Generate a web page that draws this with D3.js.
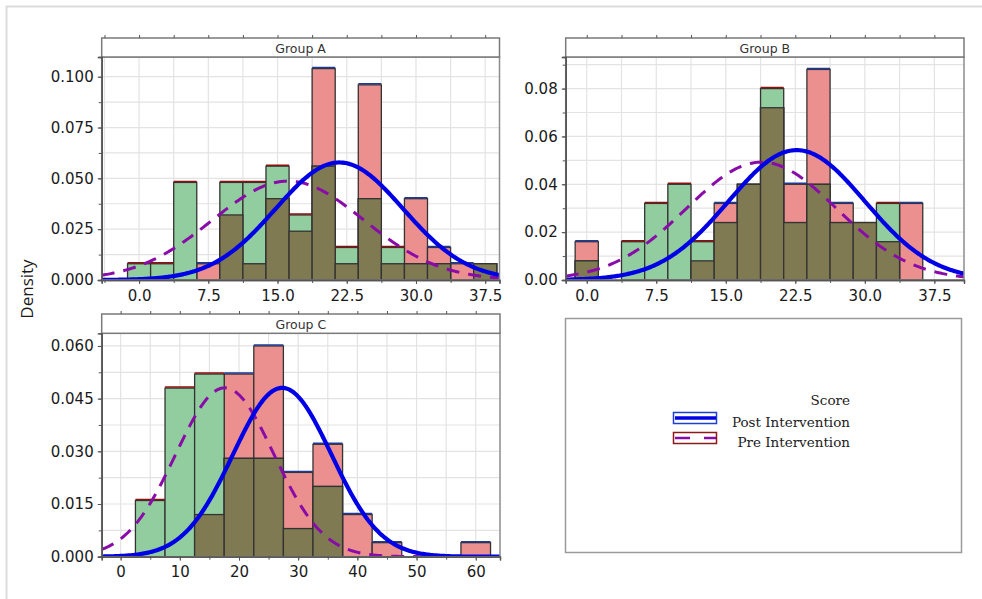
<!DOCTYPE html>
<html>
<head>
<meta charset="utf-8">
<script src="https://cdn.jsdelivr.net/npm/d3@7"></script>
<style>
  body { margin: 0; background: #fff; }
  svg { display: block; font-family: "DejaVu Sans", sans-serif; }
</style>
</head>
<body>
<div class="vis"></div>
<script>
(function() {
  'use strict';

  // histogram bins (bin centres) and densities
  var binsA = [0, 2.5, 5, 7.5, 10, 12.5, 15, 17.5, 20, 22.5, 25, 27.5, 30, 32.5, 35, 37.5];
  var postA = [0, 0, 0, 0.008, 0.032, 0.008, 0.040, 0.024, 0.104, 0.008, 0.096, 0.008, 0.040, 0.016, 0.008, 0.008];
  var preA  = [0.008, 0.008, 0.048, 0, 0.048, 0.048, 0.056, 0.032, 0.056, 0.016, 0.040, 0.016, 0.008, 0.008, 0, 0.008];

  var binsB = [0, 2.5, 5, 7.5, 10, 12.5, 15, 17.5, 20, 22.5, 25, 27.5, 30, 32.5, 35];
  var postB = [0.016, 0, 0, 0, 0, 0.008, 0.032, 0.040, 0.072, 0.040, 0.088, 0.032, 0.024, 0.016, 0.032];
  var preB  = [0.008, 0, 0.016, 0.032, 0.040, 0.016, 0.024, 0.040, 0.080, 0.024, 0.040, 0.024, 0.024, 0.032, 0];

  var binsC = [5, 10, 15, 20, 25, 30, 35, 40, 45, 50, 55, 60];
  var postC = [0, 0, 0.012, 0.052, 0.060, 0.024, 0.032, 0.012, 0.004, 0, 0, 0.004];
  var preC  = [0.016, 0.048, 0.052, 0.028, 0.028, 0.008, 0.020, 0, 0, 0, 0, 0];

  // fitted normal curves: [mean, sd]
  var postFitA = [21.7, 6.9],  preFitA = [16.15, 8.2];
  var postFitB = [22.65, 7.35], preFitB = [18.85, 8.1];
  var postFitC = [27.3, 8.3],  preFitC = [17.6, 8.3];

  // tick labels
  var xTicksAB = [0, 7.5, 15, 22.5, 30, 37.5];
  var xTicksC = [0, 10, 20, 30, 40, 50, 60];
  var yTicksA = [0, 0.025, 0.05, 0.075, 0.1];
  var yTicksB = [0, 0.02, 0.04, 0.06, 0.08];
  var yTicksC = [0, 0.015, 0.03, 0.045, 0.06];

  var colPost = '#eb8f8f', colPre = '#91cd9f', colBoth = '#7f7a52';

  var svg = d3.select('.vis').append('svg')
    .attr('width', 982)
    .attr('height', 599);

  // light outer frame
  svg.append('line').attr('x1', 6).attr('x2', 982).attr('y1', 6.5).attr('y2', 6.5)
    .attr('stroke', '#dcdcdc').attr('stroke-width', 2);
  svg.append('line').attr('x1', 6.5).attr('x2', 6.5).attr('y1', 6).attr('y2', 599)
    .attr('stroke', '#dcdcdc').attr('stroke-width', 2);

  function normal(x, p) {
    var z = (x - p[0]) / p[1];
    return Math.exp(-0.5 * z * z) / (p[1] * Math.sqrt(2 * Math.PI));
  }

  function panel(cfg, id) {
    var x = d3.scaleLinear().domain(cfg.xDomain).range([cfg.left, cfg.right]);
    var y = d3.scaleLinear().domain(cfg.yDomain).range([cfg.bottom, cfg.top]);
    var g = svg.append('g');
    var xStep = cfg.xTicks[1] - cfg.xTicks[0],
      yStep = cfg.yTicks[1] - cfg.yTicks[0];
    var xMinor = d3.range(Math.ceil(cfg.xDomain[0] / (xStep / 2)), Math.floor(cfg.xDomain[1] / (xStep / 2)) + 1)
      .map(function(k) { return k * xStep / 2; });
    var yMinor = d3.range(0, Math.floor(cfg.yDomain[1] / (yStep / 2) + 1e-6) + 1)
      .map(function(k) { return k * yStep / 2; });

    svg.append('clipPath').attr('id', 'clip' + id)
      .append('rect')
        .attr('x', cfg.left).attr('y', cfg.top)
        .attr('width', cfg.right - cfg.left).attr('height', cfg.bottom - cfg.top);

    // grid
    g.selectAll('.vg').data(xMinor).enter().append('line')
      .attr('x1', function(d) { return x(d); }).attr('x2', function(d) { return x(d); })
      .attr('y1', cfg.top).attr('y2', cfg.bottom)
      .attr('stroke', '#e3e3e3').attr('stroke-width', 1.2);
    g.selectAll('.hg').data(yMinor).enter().append('line')
      .attr('x1', cfg.left).attr('x2', cfg.right)
      .attr('y1', function(d) { return y(d); }).attr('y2', function(d) { return y(d); })
      .attr('stroke', '#e3e3e3').attr('stroke-width', 1.2);

    // bars
    var rows = cfg.bins.map(function(c, i) {
      return {c: c, post: cfg.post[i], pre: cfg.pre[i]};
    });
    var hw = cfg.binWidth / 2;
    var bars = g.append('g').attr('clip-path', 'url(#clip' + id + ')');
    function layer(val, fill) {
      bars.selectAll(null)
        .data(rows.filter(function(d) { return val(d) > 0; }))
        .enter().append('rect')
          .attr('x', function(d) { return x(d.c - hw); })
          .attr('width', function(d) { return x(d.c + hw) - x(d.c - hw); })
          .attr('y', function(d) { return y(val(d)); })
          .attr('height', function(d) { return y(0) - y(val(d)); })
          .attr('fill', fill)
          .attr('stroke', '#333')
          .attr('stroke-width', 1.3);
    }
    layer(function(d) { return d.post; }, colPost);
    layer(function(d) { return d.pre; }, colPre);
    layer(function(d) { return Math.min(d.post, d.pre); }, colBoth);

    // coloured top edge of taller bar
    bars.selectAll(null)
      .data(rows.filter(function(d) { return d.post !== d.pre; }))
      .enter().append('line')
        .attr('x1', function(d) { return x(d.c - hw); })
        .attr('x2', function(d) { return x(d.c + hw); })
        .attr('y1', function(d) { return y(Math.max(d.post, d.pre)) - 1; })
        .attr('y2', function(d) { return y(Math.max(d.post, d.pre)) - 1; })
        .attr('stroke', function(d) { return d.post > d.pre ? '#1f3a93' : '#8b1010'; })
        .attr('stroke-width', 1.5);

    // density curves
    var xs = d3.range(0, 301).map(function(k) {
      return cfg.xDomain[0] + k * (cfg.xDomain[1] - cfg.xDomain[0]) / 300;
    });
    var line = d3.line().x(function(d) { return x(d[0]); }).y(function(d) { return y(d[1]); });
    bars.append('path')
      .datum(xs.map(function(v) { return [v, normal(v, cfg.preFit)]; }))
      .attr('d', line).attr('fill', 'none')
      .attr('stroke', '#8a0ca8').attr('stroke-width', 3)
      .attr('stroke-dasharray', '13,9');
    bars.append('path')
      .datum(xs.map(function(v) { return [v, normal(v, cfg.postFit)]; }))
      .attr('d', line).attr('fill', 'none')
      .attr('stroke', '#0000e6').attr('stroke-width', 4.2);

    // frame
    g.append('rect')
      .attr('x', cfg.left).attr('y', cfg.top)
      .attr('width', cfg.right - cfg.left).attr('height', cfg.bottom - cfg.top)
      .attr('fill', 'none').attr('stroke', '#8c8c8c').attr('stroke-width', 1.5);

    // strip
    g.append('rect')
      .attr('x', cfg.left).attr('y', cfg.stripTop)
      .attr('width', cfg.right - cfg.left).attr('height', cfg.top - cfg.stripTop)
      .attr('fill', '#fff').attr('stroke', '#7a7a7a').attr('stroke-width', 1.5);
    g.append('text')
      .attr('x', (cfg.left + cfg.right) / 2).attr('y', cfg.top - 4.5)
      .attr('text-anchor', 'middle')
      .attr('font-size', 12.5).attr('fill', '#333')
      .text(cfg.title);

    // axes
    var ax = g.append('g').attr('transform', 'translate(0,' + cfg.bottom + ')')
      .call(d3.axisBottom(x).tickValues(cfg.xTicks).tickFormat(cfg.xFmt).tickSize(4).tickPadding(6));
    var axm = g.append('g').attr('transform', 'translate(0,' + cfg.bottom + ')')
      .call(d3.axisBottom(x).tickValues(xMinor).tickFormat('').tickSize(3));
    var ay = g.append('g').attr('transform', 'translate(' + cfg.left + ',0)')
      .call(d3.axisLeft(y).tickValues(cfg.yTicks).tickFormat(cfg.yFmt).tickSize(4).tickPadding(4));
    var aym = g.append('g').attr('transform', 'translate(' + cfg.left + ',0)')
      .call(d3.axisLeft(y).tickValues(yMinor).tickFormat('').tickSize(3));
    var at = g.append('g').attr('transform', 'translate(0,' + cfg.stripTop + ')')
      .call(d3.axisTop(x).tickValues(xMinor).tickFormat('').tickSize(3));
    [ax, axm, ay, aym, at].forEach(function(a) {
      a.select('.domain').attr('stroke', '#555').attr('stroke-width', 1.3);
      a.selectAll('.tick line').attr('stroke', '#555');
      a.selectAll('text').attr('font-size', 15).attr('fill', '#1a1a1a')
        .attr('font-family', '"DejaVu Sans", sans-serif');
    });
    at.select('.domain').remove();
  }

  var f1 = d3.format('.1f'), f2 = d3.format('.2f'), f3 = d3.format('.3f'), f0 = d3.format('d');

  panel({title: 'Group A', left: 101.7, right: 499.5, stripTop: 38, top: 57, bottom: 280,
    xDomain: [-4.05, 39.05], yDomain: [0, 0.1097], bins: binsA, binWidth: 2.5,
    post: postA, pre: preA, postFit: postFitA, preFit: preFitA,
    xTicks: xTicksAB, yTicks: yTicksA, xFmt: f1, yFmt: f3}, 'A');

  panel({title: 'Group B', left: 565.7, right: 964, stripTop: 38, top: 57, bottom: 280,
    xDomain: [-2.27, 40.7], yDomain: [0, 0.0932], bins: binsB, binWidth: 2.5,
    post: postB, pre: preB, postFit: postFitB, preFit: preFitB,
    xTicks: xTicksAB, yTicks: yTicksB, xFmt: f1, yFmt: f2}, 'B');

  panel({title: 'Group C', left: 101.7, right: 500, stripTop: 314, top: 333.3, bottom: 556.7,
    xDomain: [-3.2, 64.1], yDomain: [0, 0.0636], bins: binsC, binWidth: 5,
    post: postC, pre: preC, postFit: postFitC, preFit: preFitC,
    xTicks: xTicksC, yTicks: yTicksC, xFmt: f0, yFmt: f3}, 'C');

  // y label
  svg.append('text')
    .attr('transform', 'translate(33,289) rotate(-90)')
    .attr('text-anchor', 'middle')
    .attr('font-family', '"Open Sans", sans-serif')
    .attr('font-size', 17).attr('fill', '#1a1a1a')
    .text('Density');

  // legend panel
  svg.append('rect')
    .attr('x', 565.5).attr('y', 318.5).attr('width', 396).attr('height', 234)
    .attr('fill', '#fff').attr('stroke', '#9a9a9a').attr('stroke-width', 1.5);

  var leg = svg.append('g').attr('font-family', '"DejaVu Serif", serif')
    .attr('font-size', 13.5).attr('fill', '#222');
  leg.append('text').attr('x', 850).attr('y', 405).attr('text-anchor', 'end').text('Score');
  var items = [
    {label: 'Post Intervention', box: '#1f3fd0', col: '#0000e6', w: 3.5, dash: null},
    {label: 'Pre Intervention', box: '#8b1a1a', col: '#8a0ca8', w: 2.5, dash: '15,14'}
  ];
  items.forEach(function(it, i) {
    var yy = 412 + i * 20;
    leg.append('rect').attr('x', 673.5).attr('y', yy + 0.5).attr('width', 43).attr('height', 11)
      .attr('fill', '#fff').attr('stroke', it.box).attr('stroke-width', 1.5);
    leg.append('line').attr('x1', 675).attr('x2', 716).attr('y1', yy + 6).attr('y2', yy + 6)
      .attr('stroke', it.col).attr('stroke-width', it.w)
      .attr('stroke-dasharray', it.dash);
    leg.append('text').attr('x', 850).attr('y', yy + 14.5).attr('text-anchor', 'end').text(it.label);
  });

}());
</script>
</body>
</html>
